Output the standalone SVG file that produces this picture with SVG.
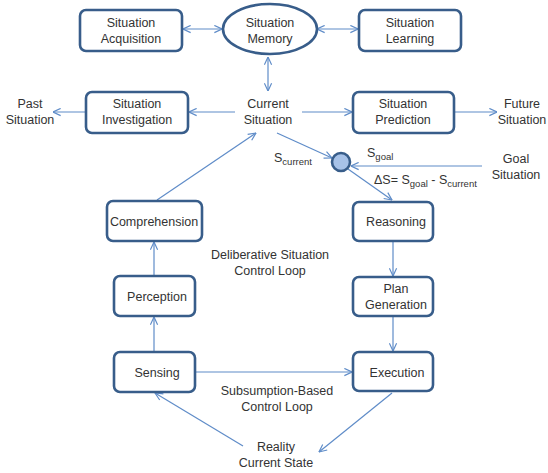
<svg xmlns="http://www.w3.org/2000/svg" width="548" height="473" viewBox="0 0 548 473">
  <style>
    .box { fill: #ffffff; stroke: #385d8a; stroke-width: 2.6; }
    .lbl { font-family: "Liberation Sans", Arial, sans-serif; font-size: 12.5px; fill: #333333; text-anchor: middle; }
    .lbl-l { font-family: "Liberation Sans", Arial, sans-serif; font-size: 12.5px; fill: #333333; }
    .sub { font-size: 9.5px; }
    .edge { fill: none; stroke: #5f8cc8; stroke-width: 1.2; }
  </style>
  <defs>
    <marker id="arr" viewBox="0 0 10 10" refX="9.5" refY="5" markerWidth="9" markerHeight="9" markerUnits="userSpaceOnUse" orient="auto-start-reverse">
      <path d="M1,1 L9.5,5 L1,9" fill="none" stroke="#5f8cc8" stroke-width="1.3"/>
    </marker>
  </defs>
  <rect width="548" height="473" fill="#ffffff"/>

  <g id="connectors">
    <line class="edge" x1="183" y1="29" x2="222" y2="29" marker-start="url(#arr)" marker-end="url(#arr)"/>
    <line class="edge" x1="317" y1="29" x2="358" y2="29" marker-start="url(#arr)" marker-end="url(#arr)"/>
    <line class="edge" x1="268" y1="57" x2="268" y2="91" marker-start="url(#arr)" marker-end="url(#arr)"/>
    <line class="edge" x1="235" y1="112" x2="189" y2="112" marker-end="url(#arr)"/>
    <line class="edge" x1="86" y1="112" x2="53" y2="112" marker-end="url(#arr)"/>
    <line class="edge" x1="302" y1="112" x2="352" y2="112" marker-end="url(#arr)"/>
    <line class="edge" x1="455" y1="112" x2="497" y2="112" marker-end="url(#arr)"/>
    <line class="edge" x1="277" y1="133" x2="332" y2="158" marker-end="url(#arr)"/>
    <line class="edge" x1="482" y1="166" x2="351" y2="166" marker-end="url(#arr)"/>
    <line class="edge" x1="348" y1="169" x2="392" y2="200" marker-end="url(#arr)"/>
    <line class="edge" x1="157" y1="200" x2="256" y2="133" marker-end="url(#arr)"/>
    <line class="edge" x1="154" y1="276" x2="154" y2="242" marker-end="url(#arr)"/>
    <line class="edge" x1="393" y1="242" x2="393" y2="276" marker-end="url(#arr)"/>
    <line class="edge" x1="154" y1="352" x2="154" y2="317" marker-end="url(#arr)"/>
    <line class="edge" x1="393" y1="317" x2="393" y2="351" marker-end="url(#arr)"/>
    <line class="edge" x1="196" y1="372" x2="352" y2="372" marker-end="url(#arr)"/>
    <line class="edge" x1="243" y1="446" x2="155" y2="393" marker-end="url(#arr)"/>
    <line class="edge" x1="392" y1="393" x2="319" y2="452" marker-end="url(#arr)"/>
  </g>

  <g id="situation-acquisition">
    <rect class="box" x="80" y="10" width="102" height="41" rx="6"/>
    <text class="lbl" x="131" y="27">Situation</text>
    <text class="lbl" x="131" y="43">Acquisition</text>
  </g>
  <g id="situation-memory">
    <ellipse class="box" cx="270" cy="29" rx="47" ry="25"/>
    <text class="lbl" x="270" y="27">Situation</text>
    <text class="lbl" x="270" y="43">Memory</text>
  </g>
  <g id="situation-learning">
    <rect class="box" x="359" y="10" width="102" height="41" rx="6"/>
    <text class="lbl" x="410" y="27">Situation</text>
    <text class="lbl" x="410" y="43">Learning</text>
  </g>

  <g id="past-situation">
    <text class="lbl" x="30" y="108">Past</text>
    <text class="lbl" x="30" y="124">Situation</text>
  </g>
  <g id="situation-investigation">
    <rect class="box" x="86" y="92" width="102" height="41" rx="6"/>
    <text class="lbl" x="137" y="108">Situation</text>
    <text class="lbl" x="137" y="124">Investigation</text>
  </g>
  <g id="current-situation">
    <text class="lbl" x="268" y="108">Current</text>
    <text class="lbl" x="268" y="124">Situation</text>
  </g>
  <g id="situation-prediction">
    <rect class="box" x="353" y="92" width="101" height="41" rx="6"/>
    <text class="lbl" x="403" y="108">Situation</text>
    <text class="lbl" x="403" y="124">Prediction</text>
  </g>
  <g id="future-situation">
    <text class="lbl" x="522" y="108">Future</text>
    <text class="lbl" x="522" y="124">Situation</text>
  </g>

  <g id="comparator">
    <circle cx="341" cy="162" r="9" fill="#a7c2e8" stroke="#385d8a" stroke-width="2.6"/>
    <text class="lbl-l" x="274" y="162">S<tspan class="sub" dy="3">current</tspan></text>
    <text class="lbl-l" x="367" y="157">S<tspan class="sub" dy="3">goal</tspan></text>
    <text class="lbl-l" x="374" y="184">ΔS= S<tspan class="sub" dy="3">goal</tspan><tspan dy="-3"> - S</tspan><tspan class="sub" dy="3">current</tspan></text>
  </g>
  <g id="goal-situation">
    <text class="lbl" x="516" y="163">Goal</text>
    <text class="lbl" x="516" y="179">Situation</text>
  </g>

  <g id="comprehension">
    <rect class="box" x="107" y="201" width="95" height="40" rx="6"/>
    <text class="lbl" x="154" y="226">Comprehension</text>
  </g>
  <g id="reasoning">
    <rect class="box" x="353" y="202" width="80" height="39" rx="6"/>
    <text class="lbl" x="396" y="226">Reasoning</text>
  </g>
  <g id="deliberative-loop">
    <text class="lbl" x="270" y="259">Deliberative Situation</text>
    <text class="lbl" x="270" y="275">Control Loop</text>
  </g>
  <g id="perception">
    <rect class="box" x="114" y="276" width="81" height="40" rx="6"/>
    <text class="lbl" x="157" y="301">Perception</text>
  </g>
  <g id="plan-generation">
    <rect class="box" x="353" y="277" width="80" height="39" rx="6"/>
    <text class="lbl" x="396" y="293">Plan</text>
    <text class="lbl" x="396" y="309">Generation</text>
  </g>
  <g id="sensing">
    <rect class="box" x="114" y="352" width="81" height="40" rx="6"/>
    <text class="lbl" x="157" y="377">Sensing</text>
  </g>
  <g id="execution">
    <rect class="box" x="353" y="352" width="80" height="39" rx="6"/>
    <text class="lbl" x="397" y="377">Execution</text>
  </g>
  <g id="subsumption-loop">
    <text class="lbl" x="277" y="395">Subsumption-Based</text>
    <text class="lbl" x="277" y="411">Control Loop</text>
  </g>
  <g id="reality">
    <text class="lbl" x="276" y="451">Reality</text>
    <text class="lbl" x="276" y="467">Current State</text>
  </g>
</svg>
